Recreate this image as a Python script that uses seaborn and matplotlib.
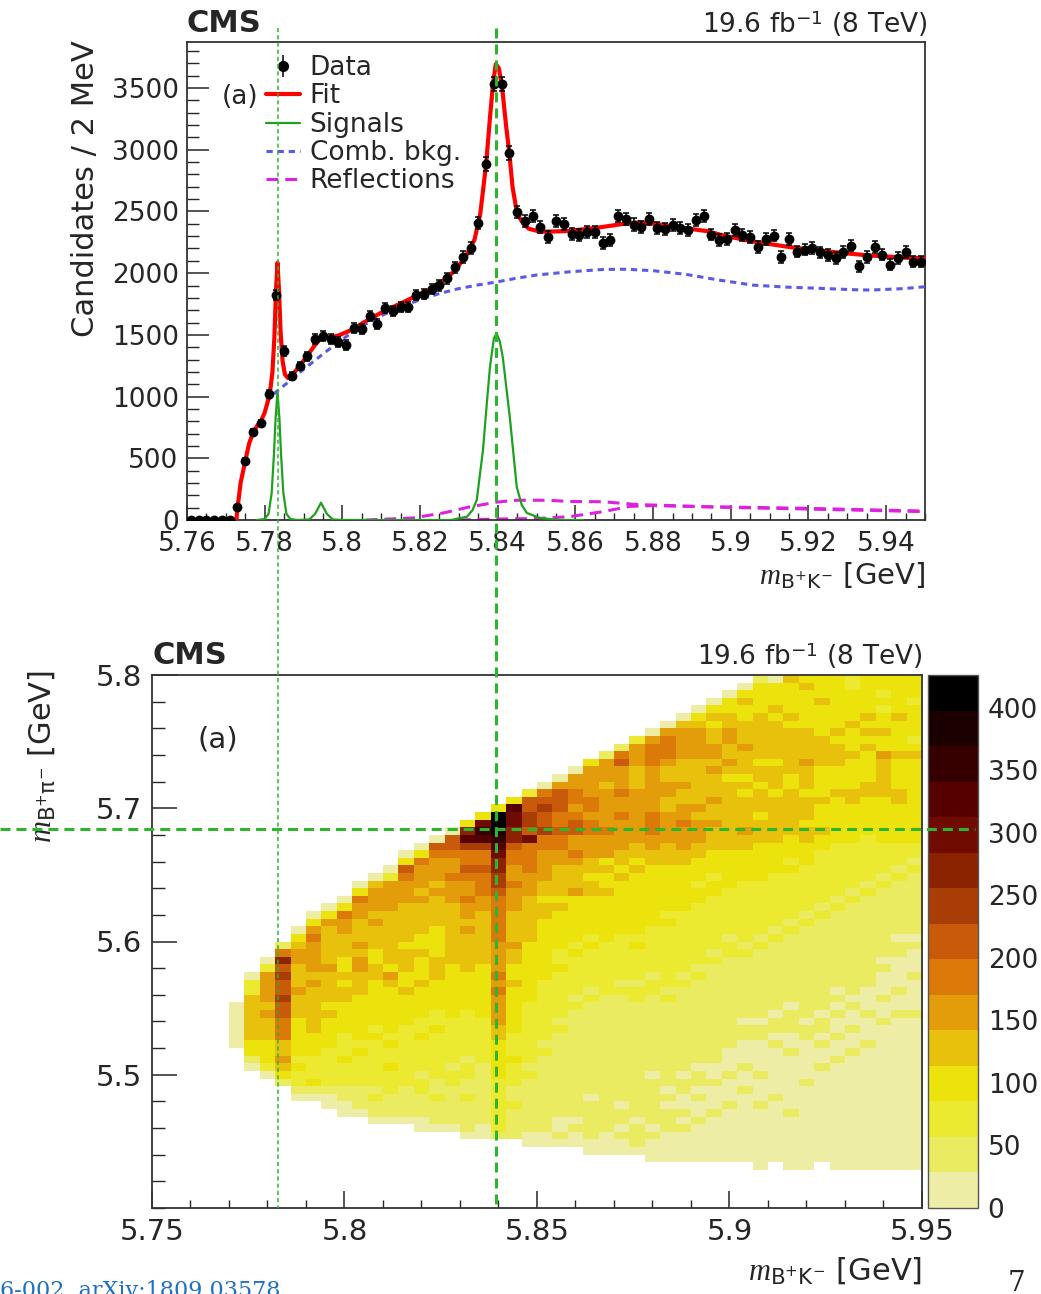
import numpy as np
import pandas as pd
import matplotlib
matplotlib.use("Agg")
import matplotlib.pyplot as plt
import seaborn as sns
from matplotlib.colors import ListedColormap, BoundaryNorm
from matplotlib.lines import Line2D
from matplotlib.legend_handler import HandlerTuple
from matplotlib.ticker import MultipleLocator, FixedLocator, FuncFormatter

# ---------------------------------------------------------------- data (top)
BIN_LO, BIN_W = 5.760, 0.002          # 2 MeV bins
COUNTS = [0, 0, 0, 0, 0, 0, 105, 478, 713, 786,
          1020, 1822, 1369, 1166, 1247, 1328, 1466, 1490, 1466, 1442,
          1418, 1555, 1547, 1652, 1588, 1717, 1693, 1725, 1725, 1822,
          1830, 1871, 1903, 1960, 2049, 2130, 2203, 2405, 2884, 3532,
          3532, 2973, 2495, 2422, 2462, 2375, 2294, 2420, 2398, 2320,
          2309, 2330, 2330, 2245, 2268, 2466, 2442, 2394, 2377, 2438,
          2366, 2361, 2390, 2366, 2353, 2434, 2466, 2313, 2268, 2276,
          2349, 2311, 2294, 2212, 2276, 2305, 2131, 2276, 2175, 2191,
          2205, 2168, 2147, 2123, 2172, 2224, 2057, 2130, 2210, 2151,
          2070, 2122, 2172, 2094, 2094]

FIT_X = [5.7600, 5.7727, 5.7731, 5.7738, 5.7750, 5.7760, 5.7770, 5.7780, 5.7790,
         5.7800, 5.7808, 5.7815, 5.7820, 5.7825, 5.7829, 5.7833, 5.7837, 5.7841,
         5.7846, 5.7852, 5.7860, 5.7870, 5.7900, 5.7930, 5.7945, 5.7960, 5.7990,
         5.8020, 5.8060, 5.8100, 5.8140, 5.8180, 5.8220, 5.8260, 5.8290, 5.8320,
         5.8340, 5.8355, 5.8370, 5.8380, 5.8388, 5.8395, 5.8403, 5.8412, 5.8422,
         5.8430, 5.8438, 5.8447, 5.8456, 5.8465, 5.8480, 5.8510, 5.8580, 5.8660,
         5.8730, 5.8765, 5.8810, 5.8870, 5.8940, 5.8975, 5.9050, 5.9150, 5.9250,
         5.9350, 5.9450, 5.9500]
FIT_Y = [0, 0, 120, 300, 480, 620, 705, 760, 800,
         870, 960, 1070, 1200, 1480, 1850, 2085, 1850, 1520,
         1290, 1180, 1150, 1170, 1290, 1420, 1475, 1475, 1495,
         1535, 1610, 1680, 1740, 1800, 1860, 1940, 2020, 2150,
         2270, 2480, 2880, 3260, 3540, 3694, 3660, 3483, 3180,
         2970, 2700, 2535, 2450, 2405, 2360, 2335, 2341, 2370,
         2402, 2412, 2398, 2370, 2340, 2310, 2260, 2212, 2175,
         2145, 2125, 2122]

BKG_X = [5.7805, 5.7830, 5.7860, 5.7900, 5.7950, 5.8000, 5.8050, 5.8100, 5.8150,
         5.8200, 5.8250, 5.8300, 5.8350, 5.8400, 5.8450, 5.8500, 5.8585, 5.8670,
         5.8730, 5.8800, 5.8885, 5.8970, 5.9057, 5.9143, 5.9230, 5.9316, 5.9360,
         5.9445, 5.9500]
BKG_Y = [955, 1040, 1115, 1220, 1345, 1465, 1570, 1655, 1725,
         1785, 1835, 1875, 1905, 1930, 1960, 1985, 2011, 2030,
         2032, 2020, 1990, 1944, 1903, 1887, 1877, 1866, 1863,
         1875, 1890]

SIG_X = [5.7780, 5.7800, 5.7810, 5.7818, 5.7824, 5.7828, 5.7833, 5.7838, 5.7842,
         5.7848, 5.7856, 5.7866, 5.7885, 5.7915, 5.7930, 5.7945, 5.7960, 5.7975,
         5.8000, 5.8280, 5.8321, 5.8335, 5.8346, 5.8362, 5.8372, 5.8380, 5.8390,
         5.8397, 5.8405, 5.8413, 5.8431, 5.8449, 5.8462, 5.8475, 5.8509, 5.8560,
         5.8620]
SIG_Y = [0, 8, 50, 220, 540, 820, 1040, 820, 540,
         220, 50, 8, 0, 5, 50, 140, 50, 5,
         0, 0, 27, 80, 162, 567, 950, 1240, 1470,
         1512, 1450, 1320, 834, 267, 120, 57, 16, 0,
         0]

REFL_A_X = [5.8060, 5.8180, 5.8260, 5.8326, 5.8400, 5.8450, 5.8530, 5.8585,
            5.8670, 5.8760, 5.8930, 5.9190, 5.9500]
REFL_A_Y = [0, 16, 57, 105, 146, 160, 160, 150, 148, 125, 108, 95, 72]
REFL_B_X = [5.8300, 5.8400, 5.8500, 5.8585, 5.8670, 5.8740, 5.8800, 5.9000, 5.9500]
REFL_B_Y = [0, 8, 12, 27, 67, 110, 117, 102, 68]

SIGNAL_LINES = [5.7834, 5.8395]      # m(B+K-) positions of the dashed markers
REFL_LINE_Y = 5.6845                 # m(B+pi-) position of horizontal marker

# ---------------------------------------------------------------- data (bottom)
HX_LO, HX_HI, HNX = 5.75, 5.95, 50
HY_LO, HY_HI, HNY = 5.40, 5.80, 70
Z_MAX = 426.0
HEAT_COLORS = ["#EDEDA6", "#EBEB62", "#ECEA30", "#EBE30B", "#E7C10B",
               "#E39D0A", "#DB7A09", "#C85A0A", "#A83D05", "#8B2200",
               "#6F0B00", "#560000", "#360000", "#1C0000", "#000000"]
# column index -> (first filled row, colour level of each row from bottom up)
HEAT_COLUMNS = {
    5: (21, "000000"),
    6: (18, "0133444444220"),
    7: (17, "0233344454555520"),
    8: (16, "1345446667787787961"),
    9: (14, "01223233333444544455430"),
    10: (14, "0132223334444445455556530"),
    11: (13, "001222223333434444544444530"),
    12: (12, "00112223222333344343344455630"),
    13: (12, "0111222232333333444554544455630"),
    14: (11, "011212222223233333344334445455540"),
    15: (11, "0111222322323333334534444444555520"),
    16: (11, "011112222222233334334443444445556730"),
    17: (10, "00111221222232233334333433444454555630"),
    18: (10, "011121122222232233334443333444454555670"),
    19: (10, "0111112212222223333333444444445556556770"),
    20: (9, "0" "1111" "2" "11" "22" "1" "222222" "33333" "44444" "5" "4" "55" "6" "55"
            "6" "7" "66" "8" "b" "9" "3"),
    21: (9, "00" "11111111" "222222" "3333333" "4444444" "55" "666" "7" "66" "8" "b"
            "c" "a" "3"),
    22: (9, "1" "2222222" "33333" "44" "5555" "6" "5" "6" "5555" "666666" "7" "88"
            "99" "a" "b" "c" "d" "ee" "3"),
    23: (9, "1111" "2" "11" "222" "3" "222" "333333" "4" "33" "44" "5" "4444" "555"
            "6" "55" "66" "7" "99" "aa" "b" "3"),
    24: (8, "00" "1111111" "2" "1" "22222222" "33333333" "444444" "555" "6666" "a"
            "7" "88" "77" "2"),
    25: (8, "00" "1111111111" "2" "1" "22222222" "33333333" "44" "3" "44" "5555"
            "66" "8" "77" "8" "7" "6" "0"),
    26: (8, "0" "1" "00" "11111111111" "2" "1" "222222" "3" "22" "33333" "4" "3"
            "4444" "55" "66" "7" "66" "777" "5" "0"),
    27: (8, "00" "1" "0" "11111111111111" "2" "1" "22222" "3" "2" "333333" "5" "444"
            "5" "6" "55" "77" "6" "5" "66" "55" "0"),
    28: (7, "00" "11111" "0" "111111111111" "2" "1" "22222" "3" "2" "33333" "44" "3"
            "44" "555" "66" "5" "66" "5555" "3"),
    29: (7, "000" "111111111111111111" "2222222" "333333" "4" "33" "4" "3" "555" "6"
            "55555" "4" "555" "1"),
    30: (7, "00" "1" "0" "11" "0" "11111111111111" "2" "1" "222222" "3333333" "4" "3"
            "44" "5555" "6" "55" "6" "555" "7" "6" "1"),
    31: (7, "0" "111" "0" "111111111111111" "22" "1" "2222" "3" "2" "33333333" "4" "3"
            "44" "5555555" "444" "555" "2"),
    32: (6, "000" "1" "0" "111111" "0" "1111111111" "22" "1" "222222" "33333333" "44"
            "55" "666" "555555" "666" "5" "0"),
    33: (6, "0000" "111" "0" "1" "0" "11111111111" "2" "1" "22222222" "3" "2" "333333"
            "444" "5555" "44" "55" "44" "5" "666" "5" "0"),
    34: (6, "0000" "1" "0" "1" "00" "11" "0" "11111111111" "2" "1" "22222222" "333333"
            "44" "555" "6" "55" "44" "5" "444" "5555" "4" "0"),
    35: (6, "00000" "1" "00" "1" "0" "11" "0" "11111111111" "2" "1" "22222222" "33" "2"
            "333" "44" "555" "4" "5" "444444" "5555" "4" "3" "0"),
    36: (6, "000000" "1" "000" "1" "00" "1111111111111" "2" "1" "2222222" "33" "2" "333"
            "444" "5" "44" "5" "444" "5" "4" "55" "44" "3" "4" "3" "0"),
    37: (6, "0000000" "1" "000" "1" "000" "111111111111" "22" "1" "222222" "33333"
            "444444444" "3" "4" "5" "44" "55" "44" "33" "0"),
    38: (6, "000000000" "1" "00" "1" "000" "11" "0" "11111111" "2" "1" "22222222" "3333"
            "44" "5" "4444" "3" "4" "3" "444" "5" "444" "33" "4" "3" "0"),
    39: (5, "00000000" "1" "000" "1" "0000" "11" "0" "111111111" "2" "1" "2222222" "33333"
            "444" "3" "444" "3" "44" "3" "444444" "3333" "1"),
    40: (6, "00000000" "1" "000000" "1" "0" "11" "0" "111111111" "2" "1" "2222222" "3333"
            "444444" "3" "444" "3" "44444" "3" "4" "333" "0"),
    41: (5, "0000000" "1" "0000000" "1" "00" "111" "0" "111111111" "2" "1" "222222" "3" "2"
            "333" "444444" "33" "444444" "3" "4" "3333" "4"),
    42: (5, "00000000000" "1" "00000" "11" "0" "111111111111" "2" "1" "222222" "333" "44"
            "3" "444" "3" "444" "5" "4444" "33333" "4" "3"),
    43: (6, "000000000000" "1" "00" "1" "0" "11" "0" "111111111111" "2" "1" "2222222" "33"
            "4" "333" "4" "3333" "4444" "3333" "4" "333"),
    44: (5, "00000000000000" "1" "00" "1" "00" "1" "0" "1" "0" "1111111111" "2" "1"
            "2222222" "333333" "4" "333" "444" "3" "4" "3333333"),
    45: (5, "000000000000000" "1" "00" "1" "00" "1" "0" "111111111111" "2" "1" "222222"
            "33333" "44" "3333" "4" "333" "4" "3333" "22"),
    46: (5, "0000000000000000" "1" "000" "1" "000" "111111111111" "2" "1" "222222" "33333"
            "44" "3333" "4" "3" "4" "3" "4" "33333"),
    47: (5, "0000000000000000000" "1" "00" "1" "000" "1" "0" "111111111" "2" "1" "2222"
            "333333" "44444" "5" "33" "4" "33" "2" "3" "2" "33"),
    48: (5, "00000000000000000000" "1" "00" "1" "0000" "11" "0" "1111111" "2" "1" "222"
            "33333" "44" "3333" "4" "3333" "4" "33333"),
    49: (5, "00000000000000000000" "1" "0000" "1" "000" "1" "0" "11111111" "2" "1" "22"
            "33333333333" "4" "3" "2" "3333" "2" "333"),
}

# ---------------------------------------------------------------- style
sns.set_theme(style="ticks")
plt.rcParams["font.family"] = ["DejaVu Sans"]
plt.rcParams["mathtext.fontset"] = "custom"
plt.rcParams["mathtext.it"] = "Liberation Serif:italic"
plt.rcParams["mathtext.rm"] = "DejaVu Sans"
plt.rcParams["mathtext.sf"] = "DejaVu Sans"
plt.rcParams["mathtext.bf"] = "DejaVu Sans:bold"
plt.rcParams["lines.scale_dashes"] = False

W, H = 1041, 1294
fig = plt.figure(figsize=(W / 100, H / 100), dpi=100)
fig.patch.set_facecolor("white")


def fx(px):
    return px / W


def fy(py):
    return 1 - py / H


ax1 = fig.add_axes([fx(187), fy(520), fx(925) - fx(187), fy(42) - fy(520)])
ax2 = fig.add_axes([fx(152), fy(1208), fx(922) - fx(152), fy(675) - fy(1208)])
cax = fig.add_axes([fx(928), fy(1208), fx(978) - fx(928), fy(675) - fy(1208)])

RED, GREEN, BLUE, MAG = "#FF0000", "#1FA01F", "#5A5AE6", "#DD22DD"
LINE_GREEN = "#2DB52D"
FMT = FuncFormatter(lambda v, p: f"{v:g}")

# ---------------------------------------------------------------- top panel
df = pd.DataFrame({"m": BIN_LO + BIN_W * (np.arange(len(COUNTS)) + 0.5),
                   "n": COUNTS})

sns.lineplot(x=REFL_A_X, y=REFL_A_Y, ax=ax1, color=MAG, linewidth=2.2, sort=False,
             estimator=None, zorder=2)
ax1.lines[-1].set_dashes((8.5, 5))
sns.lineplot(x=REFL_B_X, y=REFL_B_Y, ax=ax1, color=MAG, linewidth=2.2, sort=False,
             estimator=None, zorder=2)
ax1.lines[-1].set_dashes((8.5, 5))
sns.lineplot(x=SIG_X, y=SIG_Y, ax=ax1, color=GREEN, linewidth=1.6, sort=False,
             estimator=None, zorder=3)
sns.lineplot(x=BKG_X, y=BKG_Y, ax=ax1, color=BLUE, linewidth=2.2, sort=False,
             estimator=None, zorder=3)
ax1.lines[-1].set_dashes((4.5, 3.5))
sns.lineplot(x=FIT_X, y=FIT_Y, ax=ax1, color=RED, linewidth=3.0, sort=False,
             estimator=None, zorder=4)
ax1.errorbar(df["m"], df["n"], yerr=np.sqrt(df["n"]), fmt="none", ecolor="black",
             elinewidth=1.1, capsize=2.0, capthick=1.1, zorder=5)
sns.scatterplot(data=df, x="m", y="n", ax=ax1, color="black", s=50, linewidth=0,
                zorder=6)

ax1.set_xlim(5.76, 5.95)
ax1.set_ylim(0, 3873)
ax1.set_xlabel("")
ax1.set_ylabel("")
ax1.xaxis.set_major_locator(FixedLocator([5.76, 5.78, 5.80, 5.82, 5.84, 5.86,
                                          5.88, 5.90, 5.92, 5.94]))
ax1.xaxis.set_minor_locator(MultipleLocator(0.005))
ax1.yaxis.set_major_locator(MultipleLocator(500))
ax1.yaxis.set_minor_locator(MultipleLocator(100))
ax1.xaxis.set_major_formatter(FMT)
ax1.tick_params(axis="x", which="major", direction="in", length=10.5, width=1.1,
                labelsize=19, pad=8, top=False)
ax1.tick_params(axis="x", which="minor", direction="in", length=5, width=1.0, top=False)
ax1.tick_params(axis="y", which="major", direction="in", length=16, width=1.1,
                labelsize=19, pad=6, right=False)
ax1.tick_params(axis="y", which="minor", direction="in", length=8.5, width=1.0,
                right=False)
for s in ax1.spines.values():
    s.set_linewidth(1.3)
    s.set_color("#333333")

h_data = (Line2D([], [], ls="none", marker="o", color="black", ms=7),
          Line2D([], [], ls="none", marker="|", color="black", ms=16, mew=1.1))
h_fit = Line2D([], [], color=RED, lw=3.0)
h_sig = Line2D([], [], color=GREEN, lw=1.6)
h_bkg = Line2D([], [], color=BLUE, lw=2.2, dashes=(4.5, 3.5))
h_ref = Line2D([], [], color=MAG, lw=2.2, dashes=(8.5, 5))
ax1.legend([h_data, h_fit, h_sig, h_bkg, h_ref],
           ["Data", "Fit", "Signals", "Comb. bkg.", "Reflections"],
           loc="upper left", bbox_to_anchor=(fx(266), fy(55)),
           bbox_transform=fig.transFigure, frameon=False, fontsize=19,
           handlelength=1.3, handletextpad=0.35, labelspacing=0.09,
           borderpad=0, borderaxespad=0,
           handler_map={tuple: HandlerTuple(ndivide=1)})

fig.text(fx(187), fy(32), "CMS", fontsize=22, fontweight="bold", ha="left",
         va="baseline")
fig.text(fx(927), fy(33), r"19.6 fb$^{-1}$ (8 TeV)", fontsize=19, ha="right",
         va="baseline")
fig.text(fx(222), fy(97), "(a)", fontsize=19, ha="left", va="center")
fig.text(fx(925), fy(576), r"$m_{\mathrm{B^{+}K^{-}}}$ [GeV]", fontsize=21,
         ha="right", va="center")
fig.text(fx(86), fy(40), "Candidates / 2 MeV", fontsize=22, rotation=90,
         ha="center", va="top")

# ---------------------------------------------------------------- bottom panel
z = np.full((HNY, HNX), np.nan)
band = Z_MAX / len(HEAT_COLORS)
for col, (row0, levels) in HEAT_COLUMNS.items():
    for k, ch in enumerate(levels):
        z[row0 + k, col] = (int(ch, 16) + 0.5) * band
xedges = np.linspace(HX_LO, HX_HI, HNX + 1)
yedges = np.linspace(HY_LO, HY_HI, HNY + 1)
cmap = ListedColormap(HEAT_COLORS)
norm = BoundaryNorm(np.linspace(0, Z_MAX, len(HEAT_COLORS) + 1), len(HEAT_COLORS))
mesh = ax2.pcolormesh(xedges, yedges, np.ma.masked_invalid(z), cmap=cmap, norm=norm,
                      shading="flat", edgecolors="none", antialiased=False)

ax2.set_xlim(HX_LO, HX_HI)
ax2.set_ylim(HY_LO, HY_HI)
ax2.xaxis.set_major_locator(FixedLocator([5.75, 5.80, 5.85, 5.90, 5.95]))
ax2.xaxis.set_minor_locator(MultipleLocator(0.01))
ax2.yaxis.set_major_locator(FixedLocator([5.5, 5.6, 5.7, 5.8]))
ax2.yaxis.set_minor_locator(MultipleLocator(0.02))
ax2.xaxis.set_major_formatter(FMT)
ax2.yaxis.set_major_formatter(FMT)
ax2.tick_params(axis="x", which="major", direction="in", length=12, width=1.1,
                labelsize=21, pad=7, top=False)
ax2.tick_params(axis="x", which="minor", direction="in", length=6, width=1.0, top=False)
ax2.tick_params(axis="y", which="major", direction="in", length=18, width=1.1,
                labelsize=21, pad=7, right=False)
ax2.tick_params(axis="y", which="minor", direction="in", length=9.5, width=1.0,
                right=False)
for s in ax2.spines.values():
    s.set_linewidth(1.3)
    s.set_color("#333333")

cb = fig.colorbar(mesh, cax=cax, ticks=list(range(0, 401, 50)))
cb.outline.set_linewidth(1.0)
cb.outline.set_edgecolor("#555555")
cax.tick_params(direction="in", length=17, width=1.1, labelsize=19, pad=7,
                right=True, left=False, which="major")
cax.minorticks_off()

fig.text(fx(152), fy(664), "CMS", fontsize=22, fontweight="bold", ha="left",
         va="baseline")
fig.text(fx(922), fy(665), r"19.6 fb$^{-1}$ (8 TeV)", fontsize=19, ha="right",
         va="baseline")
fig.text(fx(197), fy(739), "(a)", fontsize=21, ha="left", va="center")
fig.text(fx(42), fy(670), r"$m_{\mathrm{B^{+}\pi^{-}}}$ [GeV]", fontsize=22,
         rotation=90, ha="center", va="top")
fig.text(fx(922), fy(1270), r"$m_{\mathrm{B^{+}K^{-}}}$ [GeV]", fontsize=22,
         ha="right", va="center")

# slide footer remnants (cut by the page edge in the reference too)
fig.text(0.0, fy(1279), "6-002, arXiv:1809.03578", fontsize=16, color="#1F6FC5",
         family="DejaVu Serif", ha="left", va="top")
fig.text(fx(1008), fy(1270), "7", fontsize=20, family="DejaVu Serif", ha="left",
         va="top")

# ---------------------------------------------------------------- guide lines
inv = fig.transFigure.inverted()
xs = [inv.transform(ax1.transData.transform((v, 0)))[0] for v in SIGNAL_LINES]
yh = inv.transform(ax2.transData.transform((HX_LO, REFL_LINE_Y)))[1]
fig.add_artist(Line2D([xs[0], xs[0]], [fy(28), fy(1208)], transform=fig.transFigure,
                      color=LINE_GREEN, lw=1.1, dashes=(3, 2.2), zorder=10))
fig.add_artist(Line2D([xs[1], xs[1]], [fy(28), fy(1208)], transform=fig.transFigure,
                      color=LINE_GREEN, lw=2.2, dashes=(7.2, 4.3), zorder=10))
fig.add_artist(Line2D([0, fx(975)], [yh, yh], transform=fig.transFigure,
                      color=LINE_GREEN, lw=2.2, dashes=(7.2, 4.3), zorder=10))

fig.savefig("out.png", dpi=100)
